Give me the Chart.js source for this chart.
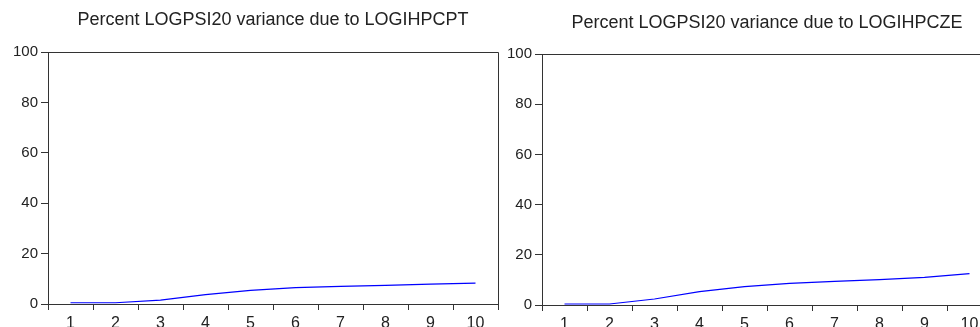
<!DOCTYPE html>
<html>
<head>
<meta charset="utf-8">
<script src="https://cdn.jsdelivr.net/npm/chart.js@4.4.1/dist/chart.umd.min.js"></script>
<style>
  html, body { margin: 0; padding: 0; background: #fff; }
  body { width: 980px; height: 327px; overflow: hidden; position: relative; }
  canvas { position: absolute; top: 0; }
  #cpt { left: 0; }
  #cze { left: 500px; }
</style>
</head>
<body>
<canvas id="cpt" width="504" height="327"></canvas>
<canvas id="cze" width="500" height="327"></canvas>
<script>
// variance decomposition of LOGPSI20, periods 1..10
const periods = ['1', '2', '3', '4', '5', '6', '7', '8', '9', '10'];
const yTicks = [0, 20, 40, 60, 80, 100];
const ptShare = [0.5, 0.5, 1.5, 3.7, 5.4, 6.5, 7.0, 7.4, 7.9, 8.3];
const czShare = [0.4, 0.4, 2.4, 5.3, 7.3, 8.6, 9.4, 10.1, 11.0, 12.5];

const axisColor = '#333';
const textColor = '#222';
const fontFamily = '"Liberation Sans", Arial, sans-serif';

// box frame (top + right) and a title centred over the plot area
const framePlugin = {
    id: 'frame',
    afterDraw(chart, args, opts) {
        const { ctx, chartArea: a } = chart;
        ctx.save();
        ctx.strokeStyle = axisColor;
        ctx.lineWidth = 1;
        ctx.beginPath();
        ctx.moveTo(Math.round(a.left) + 0.5, Math.round(a.top) + 0.5);
        ctx.lineTo(Math.round(a.right) + 0.5, Math.round(a.top) + 0.5);
        ctx.lineTo(Math.round(a.right) + 0.5, Math.round(a.bottom) + 0.5);
        ctx.stroke();
        ctx.fillStyle = textColor;
        ctx.font = '18px ' + fontFamily;
        ctx.textAlign = 'center';
        ctx.textBaseline = 'alphabetic';
        ctx.fillText(opts.text, (a.left + a.right) / 2, opts.y);
        ctx.restore();
    }
};

function makeChart(id, values, title, titleY, pad, yWidth, xHeight) {
    return new Chart(document.getElementById(id), {
        type: 'line',
        data: {
            labels: periods,
            datasets: [{
                data: values,
                borderColor: '#0000ff',
                borderWidth: 1.2,
                pointRadius: 0,
                tension: 0,
                fill: false
            }]
        },
        options: {
            responsive: false,
            animation: false,
            layout: { padding: pad },
            scales: {
                x: {
                    type: 'category',
                    offset: true,
                    grid: { offset: true, drawOnChartArea: false, tickLength: 6, color: axisColor },
                    border: { color: axisColor },
                    ticks: { color: textColor, font: { size: 16, family: fontFamily }, padding: 4, maxRotation: 0 },
                    afterFit: s => { s.height = xHeight; }
                },
                y: {
                    min: 0, max: 100,
                    afterBuildTicks: s => { s.ticks = yTicks.map(v => ({ value: v })); },
                    grid: { drawOnChartArea: false, tickLength: 7, color: axisColor },
                    border: { color: axisColor },
                    ticks: { color: textColor, font: { size: 15, family: fontFamily }, padding: 3 },
                    afterFit: s => { s.width = yWidth; }
                }
            },
            plugins: {
                legend: { display: false },
                tooltip: { enabled: false },
                frame: { text: title, y: titleY }
            }
        },
        plugins: [framePlugin]
    });
}

makeChart('cpt', ptShare, 'Percent LOGPSI20 variance due to LOGIHPCPT', 25,
    { top: 52, left: 0, right: 6, bottom: 0 }, 48, 23);
makeChart('cze', czShare, 'Percent LOGPSI20 variance due to LOGIHPCZE', 28,
    { top: 54, left: 0, right: 8, bottom: 0 }, 42, 22);
</script>
</body>
</html>
